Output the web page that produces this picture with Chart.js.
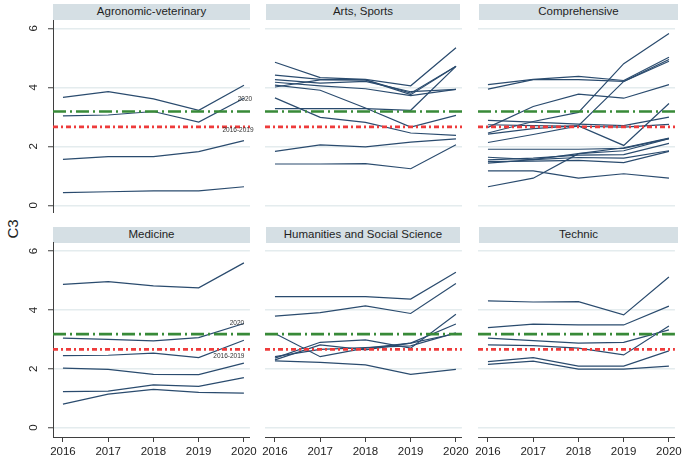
<!DOCTYPE html>
<html><head><meta charset="utf-8">
<script src="https://cdn.jsdelivr.net/npm/chart.js@4"></script>
<style>
html,body{margin:0;padding:0;background:#fff;}
body{width:685px;height:459px;position:relative;overflow:hidden;font-family:"Liberation Sans",Arial,sans-serif;}
.hdr{position:absolute;background:#d5dfe4;color:#1e1e1e;font-size:11.5px;text-align:center;line-height:15.5px;height:15.5px;white-space:nowrap;}
canvas{position:absolute;}
#ytitle{position:absolute;left:12px;top:229px;transform:translate(-50%,-50%) rotate(-90deg);font-size:15px;color:#1e1e1e;white-space:nowrap;}
</style></head><body>
<div id="ytitle">C3</div>
<script>
// ---------- data ----------
const years = [2016, 2017, 2018, 2019, 2020];
const panelTitles = ['Agronomic-veterinary', 'Arts, Sports', 'Comprehensive',
                     'Medicine', 'Humanities and Social Science', 'Technic'];
const yTicks = [0, 2, 4, 6];
const mean2020 = 3.18;
const mean20162019 = 2.66;
const refLabelTexts = ['2020', '2016-2019'];

const agronomicSeries = [
  [3.66, 3.85, 3.61, 3.22, 4.07],
  [3.03, 3.06, 3.18, 2.82, 3.63],
  [1.56, 1.65, 1.65, 1.82, 2.19],
  [0.43, 0.46, 0.49, 0.49, 0.63]
];
const artsSeries = [
  [4.85, 4.33, 4.27, 4.05, 5.34],
  [4.41, 4.27, 4.25, 3.75, 4.71],
  [4.26, 4.14, 4.20, 3.85, 3.93],
  [4.17, 4.05, 3.95, 3.72, 3.93],
  [4.07, 3.90, 3.30, 2.65, 3.05],
  [4.01, 4.25, 4.25, 3.80, 4.71],
  [3.64, 2.98, 2.81, 2.45, 2.37],
  [3.28, 3.28, 3.28, 3.22, 4.71],
  [1.83, 2.05, 1.98, 2.14, 2.25],
  [1.40, 1.40, 1.41, 1.24, 2.05]
];
const comprehensiveSeries = [
  [4.09, 4.27, 4.37, 4.23, 5.02],
  [3.94, 4.26, 4.26, 4.20, 4.94],
  [2.64, 3.35, 3.77, 3.63, 4.09],
  [2.45, 2.84, 3.15, 4.80, 5.82],
  [2.41, 2.60, 2.70, 4.20, 4.88],
  [2.88, 2.82, 2.75, 2.70, 2.99],
  [2.73, 2.70, 2.68, 2.65, 2.74],
  [2.13, 2.40, 2.69, 2.03, 3.45],
  [1.90, 1.90, 1.90, 1.93, 2.26],
  [1.63, 1.55, 1.75, 1.85, 2.26],
  [1.54, 1.60, 1.70, 1.72, 2.10],
  [1.48, 1.50, 1.52, 1.45, 1.83],
  [1.43, 1.55, 1.62, 1.60, 1.85],
  [1.17, 1.17, 0.92, 1.07, 0.92],
  [0.63, 0.92, 1.75, 1.95, 2.28]
];
const medicineSeries = [
  [4.87, 4.96, 4.82, 4.75, 5.60],
  [3.04, 3.00, 2.95, 3.06, 3.54],
  [2.45, 2.46, 2.53, 2.38, 2.97],
  [2.02, 1.98, 1.81, 1.80, 2.19],
  [1.22, 1.24, 1.45, 1.40, 1.70],
  [0.80, 1.14, 1.30, 1.20, 1.17]
];
const humanitiesSeries = [
  [4.45, 4.45, 4.45, 4.37, 5.28],
  [3.79, 3.91, 4.14, 3.88, 4.90],
  [3.20, 2.41, 2.70, 2.87, 3.20],
  [2.36, 2.90, 2.98, 2.70, 3.85],
  [2.30, 2.81, 2.64, 2.87, 3.52],
  [2.41, 2.66, 2.72, 2.78, 3.22],
  [2.27, 2.22, 2.13, 1.81, 1.98]
];
const technicSeries = [
  [4.31, 4.27, 4.28, 3.83, 5.12],
  [3.40, 3.52, 3.49, 3.49, 4.13],
  [3.04, 2.96, 2.87, 2.90, 3.32],
  [2.81, 2.79, 2.70, 2.47, 3.45],
  [2.24, 2.38, 2.09, 2.09, 2.61],
  [2.15, 2.26, 1.99, 1.99, 2.09]
];
const panelSeries = [agronomicSeries, artsSeries, comprehensiveSeries,
                     medicineSeries, humanitiesSeries, technicSeries];

// ---------- layout / style ----------
const FONT = '"Liberation Sans", Arial, sans-serif';
const colLeft = [53, 265, 478];
const hdrCols = [[53, 250], [266, 460], [479, 678]];
const rowTop = [20, 242];
const rowBottom = [213, 437];
const rowHdrTop = [4, 227];
const plotW = 197, yAxisW = 33, rightPad = 10, xAxisH = 22;
const yLabelOffset = 19;
const yRange = [[-0.26, 6.28], [-0.32, 6.31]];
const xMin = 2015.78, xMax = 2020.133;
const axisColor = '#3f3f3f';
const seriesColor = '#2a4b6e';
// annotation placement (panel index -> label offsets)
const refLabelPlacement = {
  0: [{x: 2020, y: 3.58, dx: 1}, {x: 2020, y: 2.53, dx: -6}],
  3: [{x: 2020, y: 3.55, dx: -7}, {x: 2020, y: 2.43, dx: -15}]
};

const refLabelPlugin = {
  id: 'refLabels',
  afterDatasetsDraw(chart, args, opts) {
    const {ctx} = chart;
    const xs = chart.scales.x, ys = chart.scales.y;
    ctx.save();
    if (opts.items) {
      ctx.font = '6.5px ' + FONT;
      ctx.fillStyle = '#333';
      ctx.textAlign = 'center';
      ctx.textBaseline = 'middle';
      opts.items.forEach((it, k) => {
        ctx.fillText(refLabelTexts[k], xs.getPixelForValue(it.x) + it.dx, ys.getPixelForValue(it.y));
      });
    }
    if (opts.yLabels) {
      ctx.font = '11.5px ' + FONT;
      ctx.fillStyle = '#1e1e1e';
      ctx.textAlign = 'center';
      ctx.textBaseline = 'middle';
      yTicks.forEach(v => {
        ctx.save();
        ctx.translate(chart.chartArea.left - yLabelOffset, ys.getPixelForValue(v));
        ctx.rotate(-Math.PI / 2);
        ctx.fillText(String(v), 0, 0);
        ctx.restore();
      });
    }
    ctx.restore();
  }
};

panelTitles.forEach((title, i) => {
  const r = Math.floor(i / 3), c = i % 3;
  const hdr = document.createElement('div');
  hdr.className = 'hdr';
  hdr.textContent = title;
  hdr.style.left = hdrCols[c][0] + 'px';
  hdr.style.width = (hdrCols[c][1] - hdrCols[c][0]) + 'px';
  hdr.style.top = rowHdrTop[r] + 'px';
  document.body.appendChild(hdr);

  const cv = document.createElement('canvas');
  const w = yAxisW + plotW + rightPad;
  const h = (rowBottom[r] - rowTop[r]) + (r === 1 ? xAxisH : 0);
  cv.width = w; cv.height = h;
  cv.style.width = w + 'px'; cv.style.height = h + 'px';
  cv.style.left = (colLeft[c] - yAxisW) + 'px';
  cv.style.top = rowTop[r] + 'px';
  document.body.appendChild(cv);

  const datasets = [
    {data: [{x: xMin, y: mean2020}, {x: xMax, y: mean2020}], borderColor: '#388a38',
     borderWidth: 2.7, borderDash: [13, 4, 2, 4], order: -2},
    {data: [{x: xMin, y: mean20162019}, {x: xMax, y: mean20162019}], borderColor: '#ee3b3b',
     borderWidth: 2.7, borderDash: [5, 3, 2, 3], order: -1}
  ];
  panelSeries[i].forEach(s => {
    datasets.push({data: years.map((yr, j) => ({x: yr, y: s[j]})),
                   borderColor: seriesColor, borderWidth: 1.2});
  });

  new Chart(cv, {
    type: 'line',
    data: {datasets},
    options: {
      responsive: false, animation: false, devicePixelRatio: 1,
      layout: {padding: {left: 0, right: rightPad, top: 0, bottom: 0}},
      elements: {point: {radius: 0}, line: {tension: 0, fill: false}},
      plugins: {legend: {display: false}, tooltip: {enabled: false},
                refLabels: {items: refLabelPlacement[i], yLabels: c === 0}},
      scales: {
        x: {
          type: 'linear', min: xMin, max: xMax, display: r === 1,
          afterBuildTicks: s => { s.ticks = years.map(v => ({value: v})); },
          afterFit: s => { if (r === 1) s.height = xAxisH; },
          grid: {display: true, drawOnChartArea: false, drawTicks: true, tickLength: 5,
                 tickColor: axisColor, tickWidth: 1},
          border: {display: true, color: axisColor, width: 1},
          ticks: {color: '#1e1e1e', font: {family: FONT, size: 11.5}, padding: 3,
                  maxRotation: 0, autoSkip: false, callback: v => String(v)}
        },
        y: {
          type: 'linear', min: yRange[r][0], max: yRange[r][1],
          afterBuildTicks: s => { s.ticks = yTicks.map(v => ({value: v})); },
          afterFit: s => { s.width = yAxisW; s.paddingTop = 0; s.paddingBottom = 0; },
          grid: {color: '#e4ecee', lineWidth: 1.5, drawTicks: c === 0, tickLength: 5,
                 tickColor: axisColor, tickWidth: 1},
          border: {display: c === 0, color: axisColor, width: 1},
          ticks: {display: false}
        }
      }
    },
    plugins: [refLabelPlugin]
  });
});
</script></body></html>
